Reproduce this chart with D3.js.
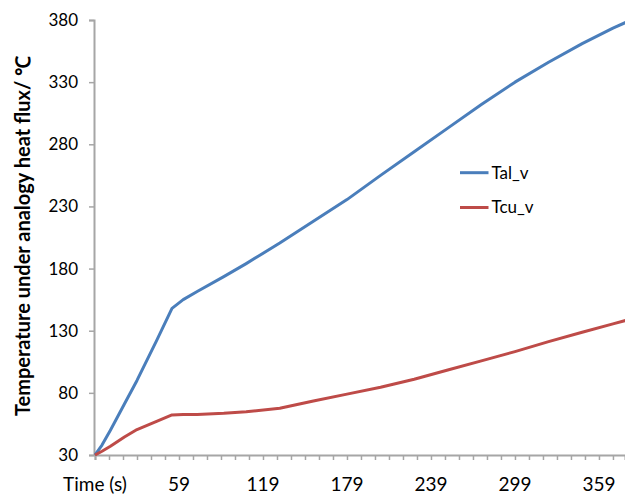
<!DOCTYPE html>
<html>
<head>
<meta charset="utf-8">
<script src="https://cdn.jsdelivr.net/npm/d3@7/dist/d3.min.js"></script>
<style>
  html, body { margin: 0; padding: 0; background: #ffffff; }
  svg { display: block; }
  text { font-family: Lato, "Open Sans", sans-serif; fill: #000; }
</style>
</head>
<body>
<svg id="chart" width="625" height="497"></svg>
<script>
// ---- data ----
const time = [0, 5, 11, 21, 30, 44, 55, 63, 73, 92, 108, 132, 156, 180, 204, 228, 252, 276, 300, 324, 348, 370, 380];
const talV = [30, 38, 50, 71, 90, 122, 148, 155, 161.5, 173.5, 184, 200.5, 218, 235.5, 255, 274, 293, 312, 330, 346, 361, 373.5, 378.5];
const tcuV = [30, 33, 37, 44.5, 50.5, 57, 62.2, 62.5, 62.6, 63.5, 64.8, 67.6, 73.5, 79, 84.5, 91, 98.4, 105.7, 113.2, 121.2, 128.8, 135.5, 138.5];
const seriesNames = ["Tal_v", "Tcu_v"];
const seriesColors = ["#4a7ebb", "#be4b48"];
const yTicks = [30, 80, 130, 180, 230, 280, 330, 380];
const xLabelPos = [0, 60, 120, 180, 240, 300, 360];
const xLabels = ["Time (s)", "59", "119", "179", "239", "299", "359"];
const yTitle = "Temperature under analogy heat flux/ \u2103";

// ---- layout ----
const svg = d3.select("#chart");
const x = d3.scaleLinear().domain([0, 378.6]).range([95, 625]);
const y = d3.scaleLinear().domain([30, 380]).range([455, 20]);
const axisColor = "#a6a6a6";

// y axis
const gy = svg.append("g").attr("transform", "translate(94,0)")
  .call(d3.axisLeft(y).tickValues(yTicks).tickSize(5).tickPadding(11));
gy.select(".domain").attr("stroke", axisColor).attr("stroke-width", 2);
gy.selectAll(".tick line").attr("stroke", axisColor).attr("stroke-width", 1.5);
gy.selectAll(".tick text").style("font-size", "17px").attr("fill", "#000");

// x axis (minor ticks every 10 categories)
const gx = svg.append("g").attr("transform", "translate(0,455)")
  .call(d3.axisBottom(x).tickValues(d3.range(0, 379, 10)).tickSize(5).tickFormat(""));
gx.select(".domain").attr("stroke", axisColor).attr("stroke-width", 2);
gx.selectAll(".tick line").attr("stroke", axisColor).attr("stroke-width", 1.5);

svg.append("g").selectAll("text").data(xLabelPos).join("text")
  .attr("x", d => x(d)).attr("y", 491)
  .attr("text-anchor", "middle")
  .style("font-size", "19px")
  .text((d, i) => xLabels[i]);

// y title
svg.append("text")
  .attr("transform", "translate(30,236) rotate(-90)")
  .attr("text-anchor", "middle")
  .style("font-size", "20px").style("font-weight", "bold")
  .text(yTitle);

// lines
const series = [talV, tcuV];
const line = d3.line().x((d, i) => x(time[i])).y(d => y(d)).curve(d3.curveLinear);
svg.append("defs").append("clipPath").attr("id", "clip")
  .append("rect").attr("x", 94).attr("y", 0).attr("width", 531).attr("height", 456);
const gl = svg.append("g").attr("clip-path", "url(#clip)");
series.forEach((s, k) => {
  gl.append("path").datum(s)
    .attr("d", line)
    .attr("fill", "none")
    .attr("stroke", seriesColors[k])
    .attr("stroke-width", 3)
    .attr("stroke-linejoin", "round");
});

// legend
const legendY = [172.7, 207.5];
const lg = svg.append("g");
seriesNames.forEach((name, k) => {
  lg.append("line")
    .attr("x1", 460).attr("x2", 488.5)
    .attr("y1", legendY[k]).attr("y2", legendY[k])
    .attr("stroke", seriesColors[k]).attr("stroke-width", 3);
  lg.append("text")
    .attr("x", 491.5).attr("y", legendY[k] + 5.8)
    .style("font-size", "17px")
    .text(name);
});
</script>
</body>
</html>
